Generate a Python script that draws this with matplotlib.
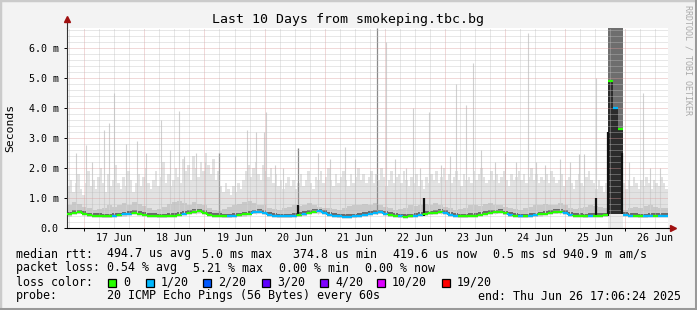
import datetime as dt
import matplotlib
matplotlib.use('Agg')
import matplotlib.pyplot as plt
from matplotlib.patches import Rectangle
from matplotlib.transforms import blended_transform_factory

W, H = 697, 310
MONO = 'DejaVu Sans Mono'

end_time = dt.datetime(2025, 6, 26, 17, 6, 24)
start_time = end_time - dt.timedelta(days=10)

# 2-hour bins from start_time, values in ms
median_rtt = [
    0.45, 0.50, 0.52, 0.48, 0.42, 0.40, 0.40, 0.39, 0.39, 0.40,
    0.42, 0.45, 0.48, 0.50, 0.47, 0.44, 0.41, 0.40, 0.39, 0.39,
    0.40, 0.41, 0.44, 0.47, 0.50, 0.53, 0.55, 0.50, 0.44, 0.41,
    0.40, 0.39, 0.39, 0.40, 0.42, 0.45, 0.48, 0.52, 0.54, 0.50,
    0.44, 0.41, 0.39, 0.39, 0.39, 0.40, 0.43, 0.46, 0.50, 0.54,
    0.55, 0.50, 0.44, 0.41, 0.39, 0.38, 0.38, 0.39, 0.41, 0.44,
    0.47, 0.50, 0.52, 0.48, 0.43, 0.40, 0.39, 0.38, 0.39, 0.40,
    0.44, 0.47, 0.49, 0.51, 0.53, 0.50, 0.44, 0.40, 0.39, 0.39,
    0.40, 0.41, 0.44, 0.47, 0.50, 0.52, 0.54, 0.49, 0.43, 0.40,
    0.39, 0.39, 0.40, 0.42, 0.45, 0.48, 0.51, 0.53, 0.54, 0.50,
    0.44, 0.41, 0.40, 0.39, 0.40, 0.40, 0.41, 0.42, 4.90, 4.00,
    3.30, 0.44, 0.41, 0.40, 0.39, 0.39, 0.40, 0.40, 0.41, 0.40,
]
smoke_mid = [
    0.75, 0.85, 0.80, 0.70, 0.65, 0.60, 0.62, 0.68, 0.75, 0.70,
    0.78, 0.82, 0.75, 0.85, 0.80, 0.72, 0.65, 0.60, 0.62, 0.70,
    0.80, 0.85, 0.90, 0.82, 0.78, 0.85, 0.80, 0.75, 0.68, 0.60,
    0.58, 0.62, 0.70, 0.75, 0.80, 0.85, 0.90, 0.82, 0.78, 0.75,
    0.68, 0.62, 0.60, 0.65, 0.70, 0.75, 0.72, 0.78, 0.82, 0.75,
    0.70, 0.68, 0.65, 0.62, 0.60, 0.65, 0.72, 0.75, 0.78, 0.80,
    0.75, 0.82, 0.78, 0.70, 0.65, 0.60, 0.62, 0.68, 0.75, 0.72,
    0.78, 0.80, 0.75, 0.82, 0.78, 0.70, 0.65, 0.60, 0.62, 0.68,
    0.75, 0.78, 0.72, 0.80, 0.82, 0.75, 0.78, 0.70, 0.65, 0.62,
    0.60, 0.65, 0.70, 0.75, 0.78, 0.80, 0.75, 0.78, 0.82, 0.75,
    0.68, 0.62, 0.65, 0.70, 0.75, 0.72, 0.70, 0.68, 6.65, 6.65,
    6.65, 0.60, 0.65, 0.70, 0.68, 0.72, 0.75, 0.70, 0.68, 0.65,
]
# 1-hour bins, light smoke top (ms)
smoke_top = [
    1.4, 1.6, 1.2, 1.5, 1.8, 1.3, 1.1, 1.5, 1.9, 1.4,
    1.6, 1.3, 1.7, 2.0, 1.5, 1.2, 1.8, 1.4, 1.6, 2.1,
    1.5, 1.3, 1.7, 1.4, 1.9, 1.6, 1.2, 1.5, 1.8, 1.4,
    1.7, 2.0, 1.5, 1.3, 1.6, 1.9, 1.4, 1.7, 2.2, 1.5,
    1.8, 1.4, 1.6, 2.0, 1.7, 1.5, 2.3, 1.9, 2.1, 1.6,
    2.4, 2.0, 1.7, 2.2, 1.9, 2.5, 2.1, 1.8, 2.3, 1.6,
    1.9, 1.4, 1.2, 1.5, 1.3, 1.1, 1.4, 1.2, 1.5, 1.3,
    1.6, 1.9, 2.1, 1.7, 2.0, 2.2, 1.8, 1.6, 2.1, 1.9,
    1.7, 2.0, 1.5, 1.8, 1.4, 1.6, 1.3, 1.5, 1.7, 1.4,
    1.6, 1.3, 1.5, 1.8, 1.4, 1.6, 1.9, 1.5, 1.3, 1.7,
    1.6, 1.9, 1.5, 1.7, 2.0, 1.6, 1.4, 1.8, 1.5, 1.7,
    1.9, 1.6, 1.4, 1.8, 1.5, 1.7, 2.0, 1.6, 1.8, 1.5,
    1.7, 1.9, 1.5, 1.8, 1.6, 2.0, 1.7, 1.4, 1.6, 1.9,
    1.5, 1.7, 1.8, 1.5, 1.9, 1.6, 1.4, 1.7, 1.5, 1.8,
    1.4, 1.6, 1.3, 1.7, 1.5, 1.8, 1.6, 1.9, 1.5, 1.7,
    2.0, 1.6, 1.8, 1.5, 1.7, 1.9, 1.6, 1.4, 1.8, 1.6,
    1.7, 1.5, 1.9, 1.6, 1.8, 2.0, 1.7, 1.5, 1.6, 1.9,
    1.6, 1.8, 1.5, 1.7, 1.9, 1.6, 1.4, 1.8, 1.6, 1.7,
    1.9, 1.6, 1.8, 1.5, 1.7, 2.0, 1.6, 1.8, 1.5, 1.7,
    1.6, 1.8, 1.5, 1.9, 1.7, 1.5, 1.6, 1.8, 1.4, 1.6,
    1.7, 1.5, 1.3, 1.6, 1.8, 1.5, 1.4, 1.7, 1.9, 1.6,
    1.5, 1.3, 1.6, 1.4, 1.2, 1.5, 6.65, 6.65, 6.65, 6.65,
    6.65, 6.65, 1.5, 1.3, 1.6, 1.4, 1.7, 1.5, 1.3, 1.6,
    1.4, 1.7, 1.5, 1.3, 1.6, 1.5, 1.4, 1.7, 1.5, 1.3,
]
# g = 0 loss, b = 1/20 loss (2-hour bins)
loss_code = ("gggggggggb" "gbbggggggg" "gggbgggggg" "ggbbgggbbb"
             "bbbbbbgbgg" "bbbbbbbbbb" "bbbbggbggb" "bggggbbbgg"
             "ggggggggbg" "bgbbgggggb" "bgggbggggb" "gbbggbbgbb")
outage_bins = [108, 109, 110]

# thin single-sample spikes (hours from start, ms)
spike_hours = [3.6, 7.6, 10.0, 14.8, 16.8, 18.8, 23.6, 28.0, 31.5, 37.5,
               41.1, 44.7, 46.7, 51.5, 55.1, 67.1, 71.9, 75.5, 78.7, 79.5,
               83.1, 86.3, 100.2, 105.0, 111.0, 115.0, 127.4, 131.0, 135.4, 138.2,
               141.0, 144.6, 149.3, 152.9, 155.3, 159.3, 162.1, 165.3, 170.9, 174.9,
               179.3, 184.1, 187.3, 190.9, 196.9, 200.9, 204.5, 206.4, 211.2, 224.4,
               230.0, 232.8, 236.8]
spike_tops = [2.5, 2.75, 2.2, 3.25, 3.5, 4.5, 2.8, 2.9, 2.5, 3.6,
              2.6, 3.9, 2.4, 2.5, 2.2, 2.4, 3.25, 3.2, 3.2, 3.85,
              2.1, 2.0, 2.5, 2.3, 2.7, 2.3, 6.2, 2.3, 2.0, 4.0,
              2.0, 3.85, 2.1, 2.4, 4.8, 4.1, 5.5, 2.6, 2.2, 2.5,
              2.2, 6.5, 2.2, 2.1, 2.3, 2.2, 2.45, 2.45, 5.0, 2.2,
              4.5, 2.0, 2.0]
dark_spike_hours = [60.7, 92.2, 123.8]
dark_spike_tops = [2.5, 2.65, 6.65]
jump_hours = [92.2, 142.6, 211.2, 216.2, 221.6]
jump_lo = [0.40, 0.40, 0.40, 0.40, 0.45]
jump_hi = [0.75, 1.00, 1.00, 3.20, 2.50]

day_labels = ['17 Jun', '18 Jun', '19 Jun', '20 Jun', '21 Jun',
              '22 Jun', '23 Jun', '24 Jun', '25 Jun', '26 Jun']
y_ticks = [0, 1, 2, 3, 4, 5, 6]
y_labels = ['0.0', '1.0 m', '2.0 m', '3.0 m', '4.0 m', '5.0 m', '6.0 m']

loss_names = ['0', '1/20', '2/20', '3/20', '4/20', '10/20', '19/20']
loss_colors = ['#26ff00', '#00b8ff', '#0059ff', '#5e00ff', '#7e00ff', '#dd00ff', '#ff0000']
line_colors = {'g': '#26ff00', 'b': '#00b8ff'}

fig = plt.figure(figsize=(W / 100, H / 100), dpi=100, facecolor='#f3f3f3')


def fx(x):
    return x / W


def fy(y):
    return 1 - y / H


# 3d-ish frame
fig.patches.append(Rectangle((0, 0), 1, 1, transform=fig.transFigure, fill=False,
                             edgecolor='#cbcbcb', linewidth=2.5))
fig.add_artist(plt.Line2D([0, 1], [0.002, 0.002], color='#999999', lw=2.2, transform=fig.transFigure))
fig.add_artist(plt.Line2D([0.998, 0.998], [0, 1], color='#999999', lw=2.2, transform=fig.transFigure))

ax = fig.add_axes([fx(67), fy(228), fx(668) - fx(67), fy(28) - fy(228)])
ax.set_facecolor('white')
ax.set_xlim(0, 240)
ax.set_ylim(0, 6.65)

# light smoke (hourly)
for j, top in enumerate(smoke_top):
    i = j // 2
    if i in outage_bins:
        continue
    lo = median_rtt[i] - 0.07
    ax.bar(j, top - lo, bottom=lo, width=1, align='edge', color='#e2e2e2', lw=0)

# darker smoke (2-hourly)
for i in range(len(median_rtt)):
    x0 = 2 * i
    m = median_rtt[i]
    if i in outage_bins:
        ax.bar(x0, 0.45, bottom=0.0, width=2, align='edge', color='#ececec', lw=0)
        ax.bar(x0, smoke_top[2 * i] - 0.45, bottom=0.45, width=2, align='edge', color='#6e6e6e', lw=0)
        ax.bar(x0, m - 0.45, bottom=0.45, width=2, align='edge', color='#2c2c2c', lw=0)
        continue
    ax.bar(x0, smoke_mid[i] - (m - 0.05), bottom=m - 0.05, width=2, align='edge', color='#c9c9c9', lw=0)
    ax.bar(x0, 0.12, bottom=m - 0.03, width=2, align='edge', color='#6a6a6a', lw=0)

ax.vlines(spike_hours, 0.45, spike_tops, color='#d0d0d0', lw=0.8)
ax.vlines(dark_spike_hours, 0.45, dark_spike_tops, color='#8a8a8a', lw=0.9)

# grid
for k in range(0, 41):
    h = 0.8933 + 6 * k
    if h > 240:
        break
    major = (k % 4 == 1)
    ax.axvline(h, color='#dc9c9c' if major else '#c0c0c0', lw=0.72,
               ls=(0, (1, 1)), alpha=0.75, zorder=2)
for k in range(1, 34):
    v = 0.2 * k
    major = (k % 5 == 0)
    ax.axhline(v, color='#dc9c9c' if major else '#c0c0c0', lw=0.72,
               ls=(0, (1, 1)), alpha=0.75, zorder=2)

# median line coloured by loss
for i in range(len(median_rtt)):
    c = line_colors[loss_code[i]]
    ax.hlines(median_rtt[i], 2 * i, 2 * i + 2, color=c, lw=1.6, zorder=4)
    if i > 0 and i not in outage_bins and (i - 1) not in outage_bins:
        ax.vlines(2 * i, median_rtt[i - 1], median_rtt[i], color=c, lw=1.6, zorder=4)
ax.vlines(jump_hours, jump_lo, jump_hi, color='#111111', lw=1.6, zorder=3)

# axes
for s in ['top', 'right']:
    ax.spines[s].set_visible(False)
ax.spines['left'].set_color('#333333')
ax.spines['bottom'].set_color('#000000')
ax.spines['left'].set_linewidth(0.8)
ax.spines['bottom'].set_linewidth(0.8)
ax.plot([0, 0], [6.65, 6.95], color='#333333', lw=0.8, clip_on=False)
ax.plot([240, 241.5], [0, 0], color='#000000', lw=0.8, clip_on=False)
ax.plot([0], [6.95], marker='^', color='#a01010', ms=4, clip_on=False)
ax.plot([241.8], [0], marker='>', color='#a01010', ms=4, clip_on=False)

ax.set_yticks(y_ticks)
ax.set_yticklabels(y_labels, family=MONO, fontsize=7.2)
ax.tick_params(axis='y', length=2, width=0.7, pad=4)
midnights = [6.8933 + 24 * k for k in range(10)]
ax.set_xticks(midnights)
ax.set_xticklabels([])
ax.tick_params(axis='x', length=2, width=0.7)
tr = blended_transform_factory(ax.transData, fig.transFigure)
for k, lab in enumerate(day_labels):
    ax.text(18.8933 + 24 * k, fy(238), lab, transform=tr, family=MONO,
            fontsize=7.2, ha='center', va='center')

fig.text(fx(10), fy(128), 'Seconds', rotation=90, family=MONO, fontsize=8.2,
         ha='center', va='center')
fig.text(fx(348), fy(19), 'Last 10 Days from smokeping.tbc.bg', family=MONO,
         fontsize=9.5, ha='center', va='center')
fig.text(fx(688), fy(5), 'RRDTOOL / TOBI OETIKER', rotation=270, family=MONO,
         fontsize=6, color='#aaaaaa', ha='center', va='top')

# legend text
fs = 8.35
rows = [
    (254, [(16, 'median rtt:'), (107, '494.7 us avg'), (202, '5.0 ms max'),
           (293, '374.8 us min'), (393, '419.6 us now'), (493, '0.5 ms sd'),
           (563, '940.9 m am/s')]),
    (268, [(16, 'packet loss:'), (107, '0.54 % avg'), (193, '5.21 % max'),
           (279, '0.00 % min'), (365, '0.00 % now')]),
    (296, [(16, 'probe:'), (107, '20 ICMP Echo Pings (56 Bytes) every 60s'),
           (478, 'end: Thu Jun 26 17:06:24 2025')]),
]
for y, items in rows:
    for x, s in items:
        fig.text(fx(x), fy(y), s, family=MONO, fontsize=fs, ha='left', va='center')

fig.text(fx(16), fy(282), 'loss color:', family=MONO, fontsize=fs, ha='left', va='center')
box_x = [108, 146, 203, 262, 320, 377, 442]
for bx, name, col in zip(box_x, loss_names, loss_colors):
    fig.patches.append(Rectangle((fx(bx), fy(286.5)), 8 / W, 8 / H, transform=fig.transFigure,
                                 facecolor=col, edgecolor='black', linewidth=0.9))
    fig.text(fx(bx + 15), fy(282), name, family=MONO, fontsize=fs, ha='left', va='center')

fig.savefig('out.png', dpi=100, facecolor=fig.get_facecolor())
